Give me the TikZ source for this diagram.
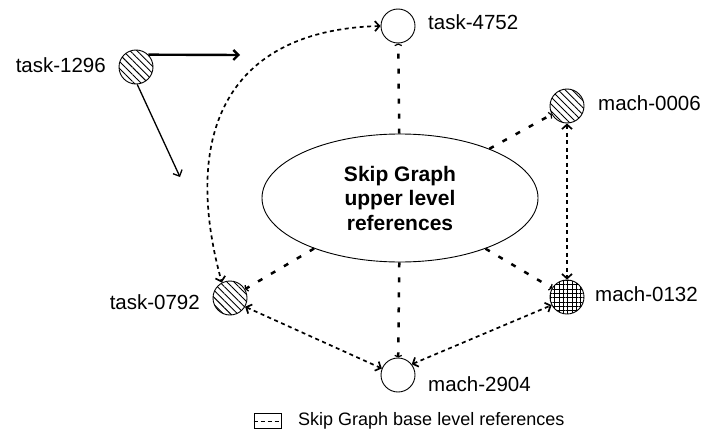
\documentclass[tikz,border=0pt]{standalone}
\usepackage{fontspec}
\setmainfont{Liberation Sans}
\usetikzlibrary{arrows.meta,shapes.geometric,patterns.meta}
\begin{document}
\begin{tikzpicture}[x=1pt,y=-1pt,
  peer/.style={circle, draw, line width=0.9pt, minimum size=34pt, inner sep=0pt},
  striped/.style={peer, pattern={Lines[angle=-45,distance=5pt,line width=0.9pt]}},
  gridded/.style={peer, pattern={Hatch[angle=0,distance=4.3pt,line width=0.8pt]}},
  lbl/.style={inner sep=0pt, font=\fontsize{20.5}{24}\selectfont},
  barb/.tip={Straight Barb[length=4.5pt,width=10pt]},
  upref/.style={line width=2.5pt, dash pattern=on 5pt off 10pt,
    -{Straight Barb[length=1.5pt,width=7pt,line width=1.2pt]}},
  baseref/.style={line width=1.7pt, dash pattern=on 4pt off 3.5pt, barb-barb},
  pointer/.style={-{Straight Barb[length=5pt,width=10pt]}}
]
\useasboundingbox (0,0) rectangle (706,444);

% central ellipse for the upper level references
\node[ellipse, draw, line width=0.9pt, minimum width=276pt, minimum height=128pt,
      inner sep=0pt, align=center,
      font=\fontsize{21}{24.5}\selectfont\bfseries] (upper) at (400,198)
      {Skip Graph\\upper level\\references};

% peers
\node[striped] (t1296) at (136,67) {};
\node[peer]    (t4752) at (398,26) {};
\node[striped] (m0006) at (567,106) {};
\node[striped] (t0792) at (230,298) {};
\node[gridded] (m0132) at (567,297) {};
\node[peer]    (m2904) at (398,375) {};

% peer labels
\node[lbl, anchor=east] (l1296) at (106,65) {task-1296};
\node[lbl, anchor=west] (l4752) at (428,22) {task-4752};
\node[lbl, anchor=west] (l0006) at (598,103) {mach-0006};
\node[lbl, anchor=east] (l0792) at (200,302) {task-0792};
\node[lbl, anchor=west] (l0132) at (595,294) {mach-0132};
\node[lbl, anchor=west] (l2904) at (428,384) {mach-2904};

% outgoing pointers of task-1296
\coordinate (p1) at (240,55);
\coordinate (p2) at (180,177);
\draw[pointer, line width=2.4pt] (t1296.45) -- (p1);
\draw[pointer, line width=1.3pt] (t1296.-86) -- (p2);

% upper level references
\draw[upref] (upper) -- (t4752);
\draw[upref] (upper) -- (m0006);
\draw[upref] (upper) -- (t0792);
\draw[upref] (upper) -- (m0132);
\draw[upref] (upper) -- (m2904);

% base level references
\draw[baseref] (t4752.180) .. controls (230,30) and (180,130) .. (t0792.118);
\draw[baseref] (t0792.-30) -- (m2904.158);
\draw[baseref] (m2904.38) -- (m0132.208);
\draw[baseref] (m0006.-90) -- (m0132.90);

% legend
\node[draw, line width=0.9pt, minimum width=27pt, minimum height=15pt, inner sep=0pt]
  (key) at (267.5,421) {};
\draw[line width=1pt, dash pattern=on 4pt off 3pt] (key.west) -- (key.east);
\node[inner sep=0pt, anchor=base west, font=\fontsize{18}{21}\selectfont]
  (keytext) at (298,425) {Skip Graph base level references};
\end{tikzpicture}
\end{document}
